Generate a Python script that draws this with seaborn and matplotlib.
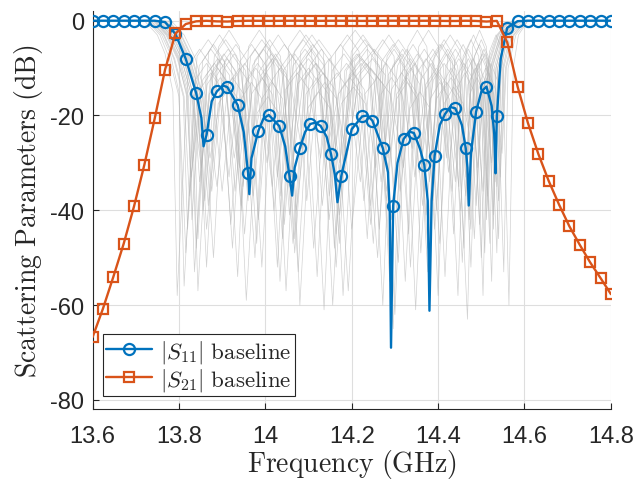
import numpy as np
import pandas as pd
import matplotlib
matplotlib.use("Agg")
import matplotlib.pyplot as plt
import seaborn as sns

# ---------------- data ----------------
FREQ_MARK = [13.600, 13.624, 13.648, 13.672, 13.696, 13.720, 13.744, 13.768, 13.792, 13.816,
             13.840, 13.864, 13.888, 13.912, 13.936, 13.960, 13.984, 14.008, 14.032, 14.056,
             14.080, 14.104, 14.128, 14.152, 14.176, 14.200, 14.224, 14.248, 14.272, 14.296,
             14.320, 14.344, 14.368, 14.392, 14.416, 14.440, 14.464, 14.488, 14.512, 14.536,
             14.560, 14.584, 14.608, 14.632, 14.656, 14.680, 14.704, 14.728, 14.752, 14.776,
             14.800]

S11_MARK = [0, 0, 0, 0, 0, 0, 0, -0.3, -2.8, -8.1,
            -15.3, -24.1, -14.9, -14.0, -17.8, -32.1, -23.2, -19.9, -22.2, -32.8,
            -26.9, -21.8, -22.2, -28.1, -32.7, -22.9, -20.2, -21.1, -26.9, -39.0,
            -25.0, -23.7, -30.4, -28.5, -19.7, -18.5, -26.9, -19.2, -13.9, -20.2,
            -1.5, -0.1, 0, 0, 0, 0, 0, 0, 0, 0,
            0]

S21_MARK = [-66.8, -60.8, -54.1, -47.1, -39.2, -30.4, -20.6, -10.3, -2.7, -0.7,
            -0.13, -0.02, -0.14, -0.18, -0.07, -0.01, -0.02, -0.04, -0.03, -0.01,
            -0.01, -0.03, -0.03, -0.01, -0.01, -0.02, -0.04, -0.03, -0.01, 0.0,
            -0.01, -0.02, -0.01, -0.01, -0.05, -0.06, -0.01, -0.05, -0.18, -0.04,
            -4.56, -13.9, -21.6, -28.1, -33.8, -38.8, -43.4, -47.3, -51.0, -54.3,
            -57.7]

# extra vertices of the baseline |S11| trace between markers (dips / peaks)
S11_EXTRA_F = [13.852, 13.857, 13.876, 13.902, 13.950, 13.963, 13.968, 13.996, 14.046, 14.062,
               14.068, 14.092, 14.116, 14.142, 14.161, 14.167, 14.236, 14.284, 14.288, 14.291,
               14.306, 14.333, 14.358, 14.376, 14.380, 14.385, 14.404, 14.428, 14.455, 14.468,
               14.471, 14.476, 14.500, 14.524, 14.530, 14.533, 14.545]
S11_EXTRA_DB = [-20.5, -26.5, -17.0, -13.7, -23.5, -36.6, -29.0, -20.6, -26.5, -36.9,
                -31.0, -23.5, -21.5, -24.5, -32.5, -38.3, -20.0, -32.0, -40.0, -69.0,
                -30.0, -23.4, -27.0, -38.0, -61.2, -38.0, -22.0, -18.2, -22.0, -31.0,
                -39.0, -28.0, -15.0, -18.0, -24.0, -32.2, -8.0]

# tolerance (Monte-Carlo) |S11| traces, light grey background
GRAY_CURVES = [
    [(13.754, 0), (13.784, -3), (13.810, -8), (13.834, -16), (13.848, -34), (13.874, -11.5), (13.900, -8), (13.926, -11.5),
     (13.952, -45), (13.977, -14.5), (14.002, -11), (14.027, -14.5), (14.052, -30), (14.080, -9.5), (14.108, -6), (14.136, -9.5),
     (14.164, -52), (14.193, -12.5), (14.222, -9), (14.251, -12.5), (14.280, -38), (14.304, -16.5), (14.328, -13), (14.352, -16.5),
     (14.376, -48), (14.398, -10.5), (14.420, -7), (14.442, -10.5), (14.464, -33), (14.480, -8.5), (14.496, -5), (14.512, -8.5),
     (14.528, -41), (14.538, -10), (14.556, -3), (14.581, -0.3)],
    [(13.740, 0), (13.770, -3), (13.796, -8), (13.820, -16), (13.830, -42), (13.855, -8.5), (13.880, -5), (13.905, -8.5),
     (13.930, -36), (13.956, -12.5), (13.982, -9), (14.008, -12.5), (14.034, -55), (14.061, -7.5), (14.088, -4), (14.115, -7.5),
     (14.142, -28), (14.169, -15.5), (14.196, -12), (14.223, -15.5), (14.250, -47), (14.274, -9.5), (14.298, -6), (14.322, -9.5),
     (14.346, -33), (14.371, -13.5), (14.396, -10), (14.421, -13.5), (14.446, -58), (14.463, -11.5), (14.480, -8), (14.497, -11.5),
     (14.514, -37), (14.524, -10), (14.548, -3), (14.573, -0.3)],
    [(13.770, 0), (13.800, -3), (13.826, -8), (13.850, -16), (13.872, -29), (13.898, -15.5), (13.924, -12), (13.950, -15.5),
     (13.976, -50), (14.000, -10.5), (14.024, -7), (14.048, -10.5), (14.072, -40), (14.098, -18.5), (14.124, -15), (14.150, -18.5),
     (14.176, -35), (14.207, -8.5), (14.238, -5), (14.269, -8.5), (14.300, -62), (14.323, -12.5), (14.346, -9), (14.369, -12.5),
     (14.392, -44), (14.414, -17.5), (14.436, -14), (14.458, -17.5), (14.480, -27), (14.495, -13.5), (14.510, -10), (14.525, -13.5),
     (14.540, -46), (14.550, -10), (14.566, -3), (14.591, -0.3)],
    [(13.746, 0), (13.776, -3), (13.802, -8), (13.826, -16), (13.840, -48), (13.865, -13.5), (13.890, -10), (13.915, -13.5),
     (13.940, -31), (13.966, -7.5), (13.992, -4), (14.018, -7.5), (14.044, -43), (14.072, -11.5), (14.100, -8), (14.128, -11.5),
     (14.156, -60), (14.184, -10.5), (14.212, -7), (14.240, -10.5), (14.268, -34), (14.292, -14.5), (14.316, -11), (14.340, -14.5),
     (14.364, -39), (14.387, -8.5), (14.410, -5), (14.433, -8.5), (14.456, -51), (14.473, -15.5), (14.490, -12), (14.507, -15.5),
     (14.524, -30), (14.534, -10), (14.552, -3), (14.577, -0.3)],
    [(13.760, 0), (13.790, -3), (13.816, -8), (13.840, -16), (13.860, -38), (13.887, -9.5), (13.914, -6), (13.941, -9.5),
     (13.968, -28), (13.992, -16.5), (14.016, -13), (14.040, -16.5), (14.064, -47), (14.091, -12.5), (14.118, -9), (14.145, -12.5),
     (14.172, -41), (14.201, -7.5), (14.230, -4), (14.259, -7.5), (14.288, -55), (14.312, -11.5), (14.336, -8), (14.360, -11.5),
     (14.384, -30), (14.407, -15.5), (14.430, -12), (14.453, -15.5), (14.476, -44), (14.491, -9.5), (14.506, -6), (14.521, -9.5),
     (14.536, -35), (14.546, -10), (14.560, -3), (14.585, -0.3)],
    [(13.730, 0), (13.760, -3), (13.780, -7), (13.800, -15), (13.812, -56), (13.838, -12.5), (13.864, -9), (13.890, -12.5),
     (13.916, -33), (13.942, -8.5), (13.968, -5), (13.994, -8.5), (14.020, -40), (14.047, -14.5), (14.074, -11), (14.101, -14.5),
     (14.128, -29), (14.155, -10.5), (14.182, -7), (14.209, -10.5), (14.236, -46), (14.261, -6.5), (14.286, -3), (14.311, -6.5),
     (14.336, -52), (14.360, -12.5), (14.384, -9), (14.408, -12.5), (14.432, -36), (14.451, -9.5), (14.470, -6), (14.489, -9.5),
     (14.508, -49), (14.520, -10), (14.544, -3), (14.569, -0.3)],
    [(13.766, 0), (13.796, -3), (13.822, -8), (13.846, -16), (13.864, -44), (13.891, -17.5), (13.918, -14), (13.945, -17.5),
     (13.972, -37), (13.998, -11.5), (14.024, -8), (14.050, -11.5), (14.076, -53), (14.103, -9.5), (14.130, -6), (14.157, -9.5),
     (14.184, -32), (14.214, -13.5), (14.244, -10), (14.274, -13.5), (14.304, -40), (14.328, -10.5), (14.352, -7), (14.376, -10.5),
     (14.400, -58), (14.422, -7.5), (14.444, -4), (14.466, -7.5), (14.488, -39), (14.503, -14.5), (14.518, -11), (14.533, -14.5),
     (14.548, -28), (14.558, -10), (14.576, -3), (14.601, -0.3)],
    [(13.750, 0), (13.780, -3), (13.806, -8), (13.830, -16), (13.852, -31), (13.878, -10.5), (13.904, -7), (13.930, -10.5),
     (13.956, -59), (13.981, -19.5), (14.006, -16), (14.031, -19.5), (14.056, -35), (14.083, -8.5), (14.110, -5), (14.137, -8.5),
     (14.164, -45), (14.194, -11.5), (14.224, -8), (14.254, -11.5), (14.284, -29), (14.306, -9.5), (14.328, -6), (14.350, -9.5),
     (14.372, -41), (14.396, -16.5), (14.420, -13), (14.444, -16.5), (14.468, -63), (14.484, -7.5), (14.500, -4), (14.516, -7.5),
     (14.532, -34), (14.542, -10), (14.558, -3), (14.583, -0.3)],
    [(13.776, 0), (13.806, -3), (13.832, -8), (13.856, -16), (13.880, -50), (13.906, -8.5), (13.932, -5), (13.958, -8.5),
     (13.984, -42), (14.009, -13.5), (14.034, -10), (14.059, -13.5), (14.084, -27), (14.111, -16.5), (14.138, -13), (14.165, -16.5),
     (14.192, -57), (14.222, -9.5), (14.252, -6), (14.282, -9.5), (14.312, -36), (14.335, -18.5), (14.358, -15), (14.381, -18.5),
     (14.404, -47), (14.426, -11.5), (14.448, -8), (14.470, -11.5), (14.492, -31), (14.507, -12.5), (14.522, -9), (14.537, -12.5),
     (14.552, -53), (14.562, -10), (14.580, -3), (14.605, -0.3)],
    [(13.736, 0), (13.766, -3), (13.790, -8), (13.812, -16), (13.824, -37), (13.849, -14.5), (13.874, -11), (13.899, -14.5),
     (13.924, -48), (13.950, -9.5), (13.976, -6), (14.002, -9.5), (14.028, -33), (14.055, -12.5), (14.082, -9), (14.109, -12.5),
     (14.136, -61), (14.163, -6.5), (14.190, -3), (14.217, -6.5), (14.244, -39), (14.268, -15.5), (14.292, -12), (14.316, -15.5),
     (14.340, -27), (14.364, -9.5), (14.388, -6), (14.412, -9.5), (14.436, -45), (14.453, -11.5), (14.470, -8), (14.487, -11.5),
     (14.504, -58), (14.516, -10), (14.540, -3), (14.565, -0.3)],
    [(13.762, 0), (13.792, -3), (13.818, -8), (13.842, -16), (13.856, -40), (13.882, -7.5), (13.908, -4), (13.934, -7.5),
     (13.960, -34), (13.987, -10.5), (14.014, -7), (14.041, -10.5), (14.068, -49), (14.094, -15.5), (14.120, -12), (14.146, -15.5),
     (14.172, -30), (14.203, -12.5), (14.234, -9), (14.265, -12.5), (14.296, -65), (14.319, -8.5), (14.342, -5), (14.365, -8.5),
     (14.388, -38), (14.409, -13.5), (14.430, -10), (14.451, -13.5), (14.472, -42), (14.487, -10.5), (14.502, -7), (14.517, -10.5),
     (14.532, -29), (14.542, -10), (14.556, -3), (14.581, -0.3)],
    [(13.744, 0), (13.774, -3), (13.800, -8), (13.822, -16), (13.836, -53), (13.863, -11.5), (13.890, -8), (13.917, -11.5),
     (13.944, -39), (13.968, -15.5), (13.992, -12), (14.016, -15.5), (14.040, -46), (14.067, -6.5), (14.094, -3), (14.121, -6.5),
     (14.148, -37), (14.176, -17.5), (14.204, -14), (14.232, -17.5), (14.260, -50), (14.284, -11.5), (14.308, -8), (14.332, -11.5),
     (14.356, -32), (14.380, -8.5), (14.404, -5), (14.428, -8.5), (14.452, -40), (14.469, -13.5), (14.486, -10), (14.503, -13.5),
     (14.520, -47), (14.530, -10), (14.550, -3), (14.575, -0.3)],
    [(13.720, 0), (13.750, -3), (13.768, -7), (13.786, -15), (13.796, -58), (13.822, -9.5), (13.848, -6), (13.874, -9.5),
     (13.900, -36), (13.926, -12.5), (13.952, -9), (13.978, -12.5), (14.004, -30), (14.031, -10.5), (14.058, -7), (14.085, -10.5),
     (14.112, -48), (14.139, -14.5), (14.166, -11), (14.193, -14.5), (14.220, -34), (14.246, -7.5), (14.272, -4), (14.298, -7.5),
     (14.324, -55), (14.348, -11.5), (14.372, -8), (14.396, -11.5), (14.420, -29), (14.439, -8.5), (14.458, -5), (14.477, -8.5),
     (14.496, -43), (14.510, -10), (14.536, -3), (14.561, -0.3)],
    [(13.782, 0), (13.812, -3), (13.838, -8), (13.862, -16), (13.888, -35), (13.914, -13.5), (13.940, -10), (13.966, -13.5),
     (13.992, -52), (14.018, -8.5), (14.044, -5), (14.070, -8.5), (14.096, -38), (14.122, -11.5), (14.148, -8), (14.174, -11.5),
     (14.200, -44), (14.230, -15.5), (14.260, -12), (14.290, -15.5), (14.320, -31), (14.344, -9.5), (14.368, -6), (14.392, -9.5),
     (14.416, -54), (14.438, -12.5), (14.460, -9), (14.482, -12.5), (14.504, -36), (14.519, -6.5), (14.534, -3), (14.549, -6.5),
     (14.564, -60), (14.574, -10), (14.586, -3), (14.606, -0.3)],
    [(13.756, 0), (13.786, -3), (13.812, -8), (13.834, -16), (13.844, -46), (13.869, -6.5), (13.894, -3), (13.919, -6.5),
     (13.944, -40), (13.970, -9.5), (13.996, -6), (14.022, -9.5), (14.048, -57), (14.074, -13.5), (14.100, -10), (14.126, -13.5),
     (14.152, -33), (14.180, -5.5), (14.208, -2), (14.236, -5.5), (14.264, -44), (14.290, -10.5), (14.316, -7), (14.342, -10.5),
     (14.368, -36), (14.391, -7.5), (14.414, -4), (14.437, -7.5), (14.460, -48), (14.476, -12.5), (14.492, -9), (14.508, -12.5),
     (14.524, -55), (14.534, -10), (14.552, -3), (14.577, -0.3)],
    [(13.742, 0), (13.772, -3), (13.798, -8), (13.818, -16), (13.828, -33), (13.855, -12.5), (13.882, -9), (13.909, -12.5),
     (13.936, -54), (13.961, -5.5), (13.986, -2), (14.011, -5.5), (14.036, -37), (14.064, -9.5), (14.092, -6), (14.120, -9.5),
     (14.148, -42), (14.175, -14.5), (14.202, -11), (14.229, -14.5), (14.256, -31), (14.282, -7.5), (14.308, -4), (14.334, -7.5),
     (14.360, -49), (14.382, -16.5), (14.404, -13), (14.426, -16.5), (14.448, -35), (14.465, -6.5), (14.482, -3), (14.499, -6.5),
     (14.516, -40), (14.526, -10), (14.546, -3), (14.571, -0.3)],
    [(13.768, 0), (13.798, -3), (13.824, -8), (13.850, -16), (13.868, -39), (13.892, -5.5), (13.916, -2), (13.940, -5.5),
     (13.964, -30), (13.990, -11.5), (14.016, -8), (14.042, -11.5), (14.068, -46), (14.096, -7.5), (14.124, -4), (14.152, -7.5),
     (14.180, -58), (14.208, -9.5), (14.236, -6), (14.264, -9.5), (14.292, -42), (14.314, -13.5), (14.336, -10), (14.358, -13.5),
     (14.380, -34), (14.404, -6.5), (14.428, -3), (14.452, -6.5), (14.476, -52), (14.492, -10.5), (14.508, -7), (14.524, -10.5),
     (14.540, -38), (14.552, -10), (14.570, -3), (14.595, -0.3)],
    [(13.726, 0), (13.756, -3), (13.778, -8), (13.800, -16), (13.816, -49), (13.842, -7.5), (13.868, -4), (13.894, -7.5),
     (13.920, -43), (13.944, -16.5), (13.968, -13), (13.992, -16.5), (14.016, -35), (14.042, -10.5), (14.068, -7), (14.094, -10.5),
     (14.120, -54), (14.147, -8.5), (14.174, -5), (14.201, -8.5), (14.228, -38), (14.254, -12.5), (14.280, -9), (14.306, -12.5),
     (14.332, -45), (14.355, -5.5), (14.378, -2), (14.401, -5.5), (14.424, -32), (14.443, -14.5), (14.462, -11), (14.481, -14.5),
     (14.500, -50), (14.514, -10), (14.538, -3), (14.563, -0.3)],
    [(13.774, 0), (13.804, -3), (13.830, -8), (13.854, -16), (13.876, -36), (13.902, -10.5), (13.928, -7), (13.954, -10.5),
     (13.980, -47), (14.005, -6.5), (14.030, -3), (14.055, -6.5), (14.080, -60), (14.107, -14.5), (14.134, -11), (14.161, -14.5),
     (14.188, -29), (14.218, -11.5), (14.248, -8), (14.278, -11.5), (14.308, -51), (14.330, -5.5), (14.352, -2), (14.374, -5.5),
     (14.396, -40), (14.418, -9.5), (14.440, -6), (14.462, -9.5), (14.484, -46), (14.499, -15.5), (14.514, -12), (14.529, -15.5),
     (14.544, -33), (14.556, -10), (14.574, -3), (14.599, -0.3)],
    [(13.750, 0), (13.780, -3), (13.806, -8), (13.830, -16), (13.844, -57), (13.870, -15.5), (13.896, -12), (13.922, -15.5),
     (13.948, -35), (13.975, -8.5), (14.002, -5), (14.029, -8.5), (14.056, -41), (14.082, -6.5), (14.108, -3), (14.134, -6.5),
     (14.160, -48), (14.188, -10.5), (14.216, -7), (14.244, -10.5), (14.272, -60), (14.295, -9.5), (14.318, -6), (14.341, -9.5),
     (14.364, -28), (14.389, -12.5), (14.414, -9), (14.439, -12.5), (14.464, -37), (14.480, -5.5), (14.496, -2), (14.512, -5.5),
     (14.528, -44), (14.538, -10), (14.556, -3), (14.581, -0.3)],
    [(13.734, 0), (13.764, -3), (13.788, -8), (13.810, -16), (13.820, -44), (13.847, -9.5), (13.874, -6), (13.901, -9.5),
     (13.928, -29), (13.953, -13.5), (13.978, -10), (14.003, -13.5), (14.028, -52), (14.054, -5.5), (14.080, -2), (14.106, -5.5),
     (14.132, -39), (14.160, -12.5), (14.188, -9), (14.216, -12.5), (14.244, -43), (14.270, -8.5), (14.296, -5), (14.322, -8.5),
     (14.348, -61), (14.371, -14.5), (14.394, -11), (14.417, -14.5), (14.440, -34), (14.458, -7.5), (14.476, -4), (14.494, -7.5),
     (14.512, -42), (14.522, -10), (14.544, -3), (14.569, -0.3)],
    [(13.764, 0), (13.794, -3), (13.820, -8), (13.844, -16), (13.864, -52), (13.888, -11.5), (13.912, -8), (13.936, -11.5),
     (13.960, -38), (13.985, -7.5), (14.010, -4), (14.035, -7.5), (14.060, -33), (14.088, -12.5), (14.116, -9), (14.144, -12.5),
     (14.172, -47), (14.199, -6.5), (14.226, -3), (14.253, -6.5), (14.280, -36), (14.304, -15.5), (14.328, -12), (14.352, -15.5),
     (14.376, -53), (14.399, -9.5), (14.422, -6), (14.445, -9.5), (14.468, -30), (14.485, -11.5), (14.502, -8), (14.519, -11.5),
     (14.536, -49), (14.546, -10), (14.562, -3), (14.587, -0.3)],
]

X_TICKS = [13.6, 13.8, 14.0, 14.2, 14.4, 14.6, 14.8]
X_TICK_LABELS = ["13.6", "13.8", "14", "14.2", "14.4", "14.6", "14.8"]
Y_TICKS = [-80, -60, -40, -20, 0]
Y_TICK_LABELS = ["-80", "-60", "-40", "-20", "0"]

# ---------------- styling ----------------
sns.set_style("ticks")
plt.rcParams["mathtext.fontset"] = "cm"
plt.rcParams["axes.unicode_minus"] = False
plt.rcParams["font.family"] = ["Liberation Sans", "DejaVu Sans"]

BLUE = "#0072BD"
ORANGE = "#D95319"

fig = plt.figure(figsize=(6.39, 4.81), dpi=100)
ax = fig.add_axes([0.1448, 0.147, 0.956 - 0.1448, 0.9746 - 0.147])

# grey tolerance traces
rows = []
for k, curve in enumerate(GRAY_CURVES):
    for f, d in curve:
        rows.append((k, f, d))
gdf = pd.DataFrame(rows, columns=["curve", "f", "db"])
sns.lineplot(data=gdf, x="f", y="db", units="curve", estimator=None, sort=False,
             color="#b4b4b4", linewidth=0.5, alpha=0.6, ax=ax, zorder=1, legend=False)

# baseline |S11|
s11 = pd.DataFrame({"f": FREQ_MARK + S11_EXTRA_F,
                    "db": S11_MARK + S11_EXTRA_DB,
                    "mark": [True] * len(FREQ_MARK) + [False] * len(S11_EXTRA_F)})
s11 = s11.sort_values("f").reset_index(drop=True)
mark_idx = list(np.flatnonzero(s11["mark"].to_numpy()))
sns.lineplot(data=s11, x="f", y="db", estimator=None, sort=False, ax=ax,
             color=BLUE, linewidth=1.7, marker="o", markersize=8,
             markerfacecolor="none", markeredgecolor=BLUE, markeredgewidth=1.6,
             markevery=mark_idx, label=r"$|S_{11}|\ \mathrm{baseline}$", zorder=3)

# baseline |S21|
s21 = pd.DataFrame({"f": FREQ_MARK, "db": S21_MARK})
sns.lineplot(data=s21, x="f", y="db", estimator=None, sort=False, ax=ax,
             color=ORANGE, linewidth=1.7, marker="s", markersize=6.8,
             markerfacecolor="none", markeredgecolor=ORANGE, markeredgewidth=1.6,
             label=r"$|S_{21}|\ \mathrm{baseline}$", zorder=4)

ax.set_xlim(13.6, 14.8)
ax.set_ylim(-82, 2)
ax.set_xticks(X_TICKS)
ax.set_xticklabels(X_TICK_LABELS)
ax.set_yticks(Y_TICKS)
ax.set_yticklabels(Y_TICK_LABELS)
ax.grid(True, color="#dedede", linewidth=0.8)
ax.set_axisbelow(True)
for s in ["top", "right"]:
    ax.spines[s].set_visible(False)
for s in ["left", "bottom"]:
    ax.spines[s].set_color("#262626")
    ax.spines[s].set_linewidth(0.8)
ax.tick_params(direction="in", length=4, width=0.8, color="#262626",
               labelsize=17, labelcolor="#262626")
ax.tick_params(axis="x", pad=11)
ax.tick_params(axis="y", pad=6)

ax.set_xlabel(r"$\mathrm{Frequency\ (GHz)}$", fontsize=20, color="#262626", labelpad=0)
ax.set_ylabel(r"$\mathrm{Scattering\ Parameters\ (dB)}$", fontsize=20, color="#262626", labelpad=4)

leg = ax.legend(loc="lower left", bbox_to_anchor=(0.02, 0.033), fontsize=16.5,
                frameon=True, fancybox=False, edgecolor="#262626", framealpha=1,
                borderpad=0.15, labelspacing=0.05, handlelength=2.0, handletextpad=0.35,
                borderaxespad=0)
leg.get_frame().set_linewidth(0.8)

fig.savefig("out.png", dpi=100)
